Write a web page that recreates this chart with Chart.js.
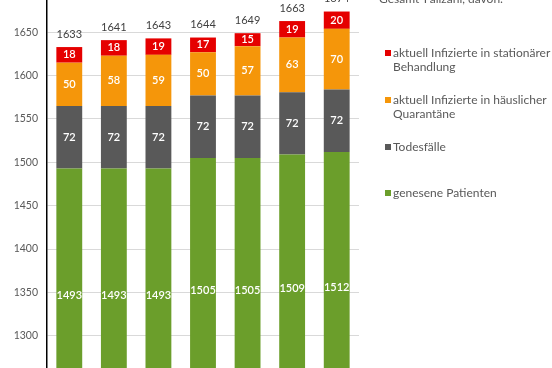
<!DOCTYPE html>
<html>
<head>
<meta charset="utf-8">
<script src="https://cdn.jsdelivr.net/npm/chart.js@4"></script>
<style>
  html, body { margin: 0; padding: 0; background: #fff; }
  #wrap { position: relative; width: 552px; height: 368px; overflow: hidden; font-family: Lato, sans-serif; }
  #chart { position: absolute; left: 0; top: 0; }
  .leg { position: absolute; color: #595959; font-size: 12px; line-height: 14px; }
  .sw { position: absolute; width: 6px; height: 6px; }
</style>
</head>
<body>
<div id="wrap">
  <canvas id="chart" width="552" height="368"></canvas>
  <div class="leg" style="left:379px; top:-8px;">Gesamt-Fallzahl, davon:</div>

  <div class="sw" style="left:385px; top:50px; background:#e50000;"></div>
  <div class="leg" style="left:393px; top:46px;">aktuell Infizierte in stationärer<br>Behandlung</div>

  <div class="sw" style="left:385px; top:97px; background:#f5960a;"></div>
  <div class="leg" style="left:393px; top:93px;">aktuell Infizierte in häuslicher<br>Quarantäne</div>

  <div class="sw" style="left:385px; top:144px; background:#595959;"></div>
  <div class="leg" style="left:393px; top:140px;">Todesfälle</div>

  <div class="sw" style="left:385px; top:190px; background:#6b9e2b;"></div>
  <div class="leg" style="left:393px; top:186px;">genesene Patienten</div>
</div>

<script>
// Data
const categories = ['1', '2', '3', '4', '5', '6', '7'];
const genesen = [1493, 1493, 1493, 1505, 1505, 1509, 1512];
const todesfaelle = [72, 72, 72, 72, 72, 72, 72];
const quarantaene = [50, 58, 59, 50, 57, 63, 70];
const stationaer = [18, 18, 19, 17, 15, 19, 20];
const totals = [1633, 1641, 1643, 1644, 1649, 1663, 1674];

// visible part of the y axis (the original starts at 1200, cropped)
const AXIS_BASE = 1200;
const Y_MIN = 1262.7;
const Y_MAX = 1687.3;

// Draw values inside the segments and totals above the bars
const labelPlugin = {
  id: 'labels',
  afterDatasetsDraw(chart) {
    const ctx = chart.ctx;
    const y = chart.scales.y;
    ctx.save();
    ctx.textAlign = 'center';
    ctx.textBaseline = 'middle';
    chart.data.datasets.forEach((ds, di) => {
      const meta = chart.getDatasetMeta(di);
      meta.data.forEach((bar, i) => {
        let bottom = 0;
        for (let k = 0; k < di; k++) bottom += chart.data.datasets[k].data[i];
        if (di === 0) bottom = AXIS_BASE;
        const top = (di === 0 ? 0 : bottom) + ds.data[i];
        const mid = (bottom + top) / 2;
        ctx.font = '600 11px Lato';
        ctx.fillStyle = '#ffffff';
        ctx.fillText(ds.data[i], bar.x, y.getPixelForValue(mid));
      });
    });
    const meta = chart.getDatasetMeta(3);
    meta.data.forEach((bar, i) => {
      ctx.font = '11px Lato';
      ctx.fillStyle = '#404040';
      ctx.fillText(totals[i], bar.x, y.getPixelForValue(totals[i]) - 13);
    });
    ctx.restore();
  }
};

new Chart(document.getElementById('chart'), {
  type: 'bar',
  data: {
    labels: categories,
    datasets: [
      { label: 'genesene Patienten', data: genesen, backgroundColor: '#6b9e2b' },
      { label: 'Todesfälle', data: todesfaelle, backgroundColor: '#595959' },
      { label: 'aktuell Infizierte in häuslicher Quarantäne', data: quarantaene, backgroundColor: '#f5960a' },
      { label: 'aktuell Infizierte in stationärer Behandlung', data: stationaer, backgroundColor: '#e50000' },
    ],
  },
  options: {
    responsive: false,
    animation: false,
    layout: { padding: { left: 0, right: 193, top: 0, bottom: 0 } },
    datasets: {
      bar: { categoryPercentage: 1, barPercentage: 0.58, borderWidth: 0 },
    },
    plugins: {
      legend: { display: false },
      tooltip: { enabled: false },
    },
    scales: {
      x: {
        stacked: true,
        display: false,
      },
      y: {
        stacked: true,
        min: Y_MIN,
        max: Y_MAX,
        afterBuildTicks(scale) {
          scale.ticks = scale.ticks.filter(t => t.value % 50 === 0);
        },
        afterFit(scale) {
          scale.width = 47;
          scale.paddingTop = 0;
          scale.paddingBottom = 0;
        },
        ticks: {
          stepSize: 50,
          color: '#595959',
          font: { family: 'Lato', size: 10.5 },
          padding: 9,
          callback: v => String(v),
        },
        grid: { color: '#d9d9d9', drawTicks: false },
        border: { color: '#000000', width: 1.5 },
      },
    },
  },
  plugins: [labelPlugin],
});
</script>
</body>
</html>
